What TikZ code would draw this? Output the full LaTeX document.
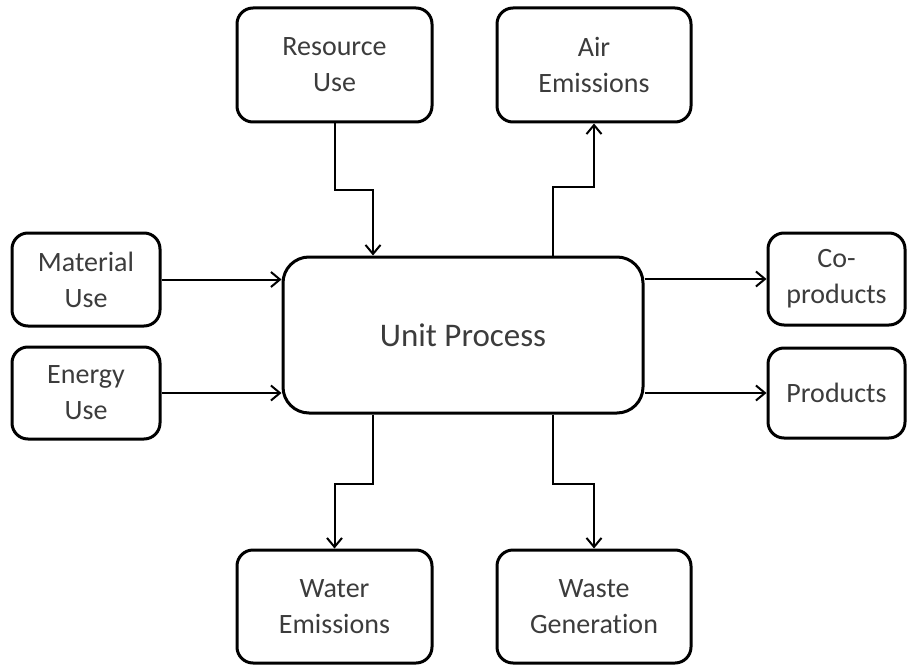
\documentclass[tikz,border=0pt]{standalone}
\usepackage{fontspec}
\setmainfont[Ligatures=NoCommon]{Carlito}
\usetikzlibrary{arrows.meta,calc}
\definecolor{txt}{HTML}{3C3C3C}
\begin{document}
\begin{tikzpicture}[x=1pt,y=-1pt,
  box/.style={draw=black,line width=3pt,rounded corners=16pt,align=center,
    inner sep=0pt,text=txt,font=\fontsize{28}{36}\selectfont},
  bigbox/.style={box,rounded corners=26pt,font=\fontsize{33}{40}\selectfont},
  arr/.style={draw=black,line width=2pt,-{Straight Barb[length=9pt,width=15pt,line width=2pt]}}]
\useasboundingbox (0,0) rectangle (907,666);
\node[box,minimum width=195pt,minimum height=114pt] (res) at (334.5,65) {Resource\\Use};
\node[box,minimum width=194pt,minimum height=114pt] (air) at (594,65) {Air\\Emissions};
\node[box,minimum width=148pt,minimum height=93pt] (mat) at (86,279.5) {Material\\Use};
\node[box,minimum width=148pt,minimum height=92pt] (ene) at (86,393) {Energy\\Use};
\node[bigbox,minimum width=360pt,minimum height=156pt] (up) at (463,335) {Unit Process};
\node[box,minimum width=137pt,minimum height=92pt] (cop) at (836.5,279) {Co-\\products};
\node[box,minimum width=137pt,minimum height=90pt] (prod) at (836.5,393) {Products};
\node[box,minimum width=195pt,minimum height=113pt] (wat) at (334.5,606.5) {Water\\Emissions};
\node[box,minimum width=194pt,minimum height=113pt] (was) at (594,606.5) {Waste\\Generation};
\draw[arr] (res.south) -- ++(0,66) -| ([xshift=-90pt]up.north);
\draw[arr] ([xshift=90pt]up.north) -- ++(0,-69) -| (air.south);
\draw[arr] ([xshift=-90pt]up.south) -- ++(0,69) -| (wat.north);
\draw[arr] ([xshift=90pt]up.south) -- ++(0,69) -| (was.north);
\draw[arr] (mat.east) -- (mat.east -| up.west);
\draw[arr] (ene.east) -- (ene.east -| up.west);
\draw[arr] (up.east |- cop.west) -- (cop.west);
\draw[arr] (up.east |- prod.west) -- (prod.west);
\end{tikzpicture}
\end{document}
